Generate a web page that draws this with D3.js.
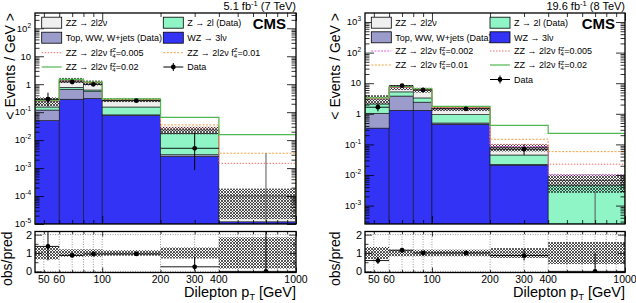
<!DOCTYPE html>
<html>
<head>
<meta charset="utf-8">
<script src="https://cdn.jsdelivr.net/npm/d3@7"></script>
<style>
  body { margin: 0; background: #fff; }
  text { font-family: "Liberation Sans", Arial, sans-serif; fill: #000; }
</style>
</head>
<body>
<svg id="chart" width="636" height="303"></svg>
<script>
////////////////////////////////////////////////////////
//////////////////// Data //////////////////////////////
////////////////////////////////////////////////////////

// dilepton pT bins (GeV)
const binEdges = [45, 60, 80, 100, 200, 400, 1000];
const binCenters = [52.5, 70, 90, 150, 300, 700];
const xTickLabels = [50, 60, 100, 200, 300, 400, 1000];
const xTicksMajor = [100, 1000];
const xTicksMinor = [50, 60, 70, 80, 90, 200, 300, 400, 500, 600, 700, 800, 900];
const ratioTickLabels = [0, 1, 2];

// 7 TeV, events / GeV
const wz7 = [0.05, 0.29, 0.31, 0.075, 0.0026, 0.000012];
const top7 = [0.069, 0.37, 0.23, 0.005, 0.0004, 0];
const z7 = [0.034, 0.115, 0.08, 0.073, 0.0145, 0];
const zz7 = [0.097, 0.625, 0.51, 0.117, 0.0055, 0.000088];
const unc7 = [0.35, 0.2, 0.2, 0.15, 0.3, 0.85];
const data7 = [0.29, 1.2, 0.99, 0.257, 0.0051, 0];
const data7Lo = [0.16, 1.05, 0.85, 0.235, 0.00085, 0];
const data7Hi = [0.5, 1.36, 1.14, 0.28, 0.018, 0.0034];
const f4_005_7 = [0.255, 1.42, 1.15, 0.28, 0.027, 0.00148];
const f4_01_7 = [0.26, 1.45, 1.17, 0.285, 0.035, 0.0034];
const f4_02_7 = [0.27, 1.5, 1.2, 0.3, 0.065, 0.0156];
const ratio7 = [1.36, 0.87, 0.95, 0.95, 0.25, 0];
const ratio7Lo = [0.6, 0.75, 0.82, 0.86, 0.04, 0];
const ratio7Hi = [3.5, 0.99, 1.08, 1.04, 0.8, 30];

// 8 TeV, events / GeV
const wz8 = [0.34, 1.3, 1.3, 0.45, 0.021, 0.0002];
const top8 = [0.7, 2.5, 1.1, 0.05, 0.001, 0];
const z8 = [1.06, 1.4, 0.9, 0.45, 0.023, 0.0045];
const zz8 = [0.95, 2.1, 2.7, 0.55, 0.035, 0.0018];
const unc8 = [0.33, 0.18, 0.18, 0.18, 0.27, 0.6];
const data8 = [1.64, 8.3, 6.0, 1.45, 0.07, 0];
const data8Lo = [1.2, 7.4, 5.2, 1.35, 0.045, 0];
const data8Hi = [2.2, 9.3, 6.9, 1.56, 0.1, 0.0029];
const f4_002_8 = [3.1, 7.4, 6.1, 1.55, 0.085, 0.01];
const f4_005_8 = [3.15, 7.5, 6.2, 1.6, 0.1, 0.0225];
const f4_01_8 = [3.2, 7.6, 6.3, 1.65, 0.147, 0.058];
const f4_02_8 = [3.3, 7.8, 6.5, 1.75, 0.42, 0.23];
const ratio8 = [0.59, 1.15, 1.0, 1.0, 0.86, 0];
const ratio8Lo = [0.4, 1.05, 0.9, 0.93, 0.6, 0];
const ratio8Hi = [0.8, 1.25, 1.1, 1.07, 1.2, 1.0];

////////////////////////////////////////////////////////
//////////////////// Setup /////////////////////////////
////////////////////////////////////////////////////////

const mainTop = 13, mainBottom = 224;
const ratioTop = 231.5, ratioBottom = 272.5;
const ratioDomain = [-0.06, 2.17];

const colZZ = "#efefef", colTop = "#9c9ccc", colZ = "#8ff5c6", colWZ = "#3333f5";
const f4Style = {
  "0.002": { color: "#e060e0", dash: "2,1.2", width: 1 },
  "0.005": { color: "#f07070", dash: "1.5,1.5", width: 1 },
  "0.01": { color: "#f5a040", dash: "2,1.5", width: 1 },
  "0.02": { color: "#50b850", dash: null, width: 1.2 }
};

const svg = d3.select("#chart");
const defs = svg.append("defs");
defs.append("pattern")
    .attr("id", "hatch")
    .attr("patternUnits", "userSpaceOnUse")
    .attr("width", 3).attr("height", 3)
  .append("path")
    .attr("d", "M0,0L3,3M3,0L0,3")
    .attr("stroke", "#222")
    .attr("stroke-width", 0.75);

////////////////////////////////////////////////////////
/////////////////////// Functions //////////////////////
////////////////////////////////////////////////////////

let f4Label = function(sel, val) {
  sel.append("tspan").text("ZZ → 2l2ν f");
  sel.append("tspan").attr("font-size", 6).attr("dy", 2).text("4");
  sel.append("tspan").attr("font-size", 6).attr("dx", -3.4).attr("dy", -5.5).text("Z");
  sel.append("tspan").attr("dy", 3.5).text("=" + val);
};

let drawPanel = function(p) {
  const g = svg.append("g");
  const clipId = "clip" + p.id, clipRId = "clipr" + p.id;

  defs.append("clipPath").attr("id", clipId)
    .append("rect").attr("x", p.left).attr("y", mainTop)
    .attr("width", p.right - p.left).attr("height", mainBottom - mainTop);
  defs.append("clipPath").attr("id", clipRId)
    .append("rect").attr("x", p.left).attr("y", ratioTop)
    .attr("width", p.right - p.left).attr("height", ratioBottom - ratioTop);

  const x = d3.scaleLog().domain([45, 1000]).range([p.left, p.right]);
  const y = d3.scaleLog().domain(p.yDomain).range([mainBottom, mainTop]).clamp(true);
  const yr = d3.scaleLinear().domain(ratioDomain).range([ratioBottom, ratioTop]);
  const yv = v => y(Math.max(v, p.yDomain[0]));

  // stacked backgrounds
  const rows = binCenters.map((c, i) => ({
    i: i, wz: p.wz[i], top: p.top[i], z: p.z[i], zz: p.zz[i]
  }));
  const series = d3.stack().keys(["wz", "top", "z", "zz"])(rows);
  const colors = { wz: colWZ, top: colTop, z: colZ, zz: colZZ };

  const main = g.append("g").attr("clip-path", `url(#${clipId})`);

  series.forEach(s => {
    main.append("g")
      .selectAll("rect")
      .data(s.filter(d => d[1] - d[0] > 0))
      .join("rect")
        .attr("x", d => x(binEdges[d.data.i]))
        .attr("width", d => x(binEdges[d.data.i + 1]) - x(binEdges[d.data.i]))
        .attr("y", d => yv(d[1]))
        .attr("height", d => yv(d[0]) - yv(d[1]))
        .attr("fill", colors[s.key])
        .attr("stroke", "#111")
        .attr("stroke-width", 0.6);
  });

  // uncertainty band
  const totals = rows.map(r => r.wz + r.top + r.z + r.zz);
  main.append("g")
    .selectAll("rect")
    .data(totals)
    .join("rect")
      .attr("x", (d, i) => x(binEdges[i]))
      .attr("width", (d, i) => x(binEdges[i + 1]) - x(binEdges[i]))
      .attr("y", (d, i) => yv(d * (1 + p.unc[i])))
      .attr("height", (d, i) => yv(d * (1 - p.unc[i])) - yv(d * (1 + p.unc[i])))
      .attr("fill", "url(#hatch)");

  // anomalous coupling histograms
  const line = d3.line().x(d => x(d[0])).y(d => yv(d[1]));
  p.f4.forEach(f => {
    const pts = [[binEdges[0], p.yDomain[0]]];
    f.values.forEach((v, i) => { pts.push([binEdges[i], v]); pts.push([binEdges[i + 1], v]); });
    pts.push([binEdges[binEdges.length - 1], p.yDomain[0]]);
    const st = f4Style[f.key];
    main.append("path")
      .attr("d", line(pts))
      .attr("fill", "none")
      .attr("stroke", st.color)
      .attr("stroke-width", st.width)
      .attr("stroke-dasharray", st.dash);
  });

  // data
  const dg = main.append("g");
  binCenters.forEach((c, i) => {
    dg.append("line")
      .attr("x1", x(c)).attr("x2", x(c))
      .attr("y1", yv(p.dataLo[i])).attr("y2", yv(p.dataHi[i]))
      .attr("stroke", p.data[i] > 0 ? "#000" : "#555").attr("stroke-width", 1);
    if (p.data[i] > 0) {
      dg.append("line")
        .attr("x1", x(binEdges[i])).attr("x2", x(binEdges[i + 1]))
        .attr("y1", y(p.data[i])).attr("y2", y(p.data[i]))
        .attr("stroke", "#000").attr("stroke-width", 0.9);
      dg.append("circle")
        .attr("cx", x(c)).attr("cy", y(p.data[i])).attr("r", 2.4).attr("fill", "#000");
    }
  });

  // ratio panel
  const rg = g.append("g").attr("clip-path", `url(#${clipRId})`);
  xTicksMinor.concat(xTicksMajor).forEach(v => {
    rg.append("line")
      .attr("x1", x(v)).attr("x2", x(v)).attr("y1", ratioTop).attr("y2", ratioBottom)
      .attr("stroke", "#555").attr("stroke-width", 0.6).attr("stroke-dasharray", "1,1.5");
  });
  ratioTickLabels.forEach(v => {
    rg.append("line")
      .attr("x1", p.left).attr("x2", p.right).attr("y1", yr(v)).attr("y2", yr(v))
      .attr("stroke", "#555").attr("stroke-width", 0.6).attr("stroke-dasharray", "1,1.5");
  });
  rg.append("g")
    .selectAll("rect")
    .data(p.unc)
    .join("rect")
      .attr("x", (d, i) => x(binEdges[i]))
      .attr("width", (d, i) => x(binEdges[i + 1]) - x(binEdges[i]))
      .attr("y", d => yr(1 + d))
      .attr("height", d => yr(1 - d) - yr(1 + d))
      .attr("fill", "url(#hatch)");
  binCenters.forEach((c, i) => {
    rg.append("line")
      .attr("x1", x(c)).attr("x2", x(c))
      .attr("y1", yr(p.ratioLo[i])).attr("y2", yr(p.ratioHi[i]))
      .attr("stroke", "#000").attr("stroke-width", 1);
    rg.append("line")
      .attr("x1", x(binEdges[i])).attr("x2", x(binEdges[i + 1]))
      .attr("y1", yr(p.ratio[i])).attr("y2", yr(p.ratio[i]))
      .attr("stroke", "#000").attr("stroke-width", 0.9);
    rg.append("circle")
      .attr("cx", x(c)).attr("cy", yr(p.ratio[i])).attr("r", 2.4).attr("fill", "#000");
  });

  // axes: ticks pointing inward on all sides
  const tickAxis = (gen, scale, vals, size, tx, ty) => {
    const a = g.append("g")
      .attr("transform", `translate(${tx},${ty})`)
      .call(gen(scale).tickValues(vals).tickSize(size).tickFormat(""));
    a.select(".domain").remove();
    a.selectAll("line").attr("stroke", "#000").attr("stroke-width", 0.8);
  };
  // main x
  tickAxis(d3.axisBottom, x, xTicksMajor, -8, 0, mainBottom);
  tickAxis(d3.axisBottom, x, xTicksMinor, -4, 0, mainBottom);
  tickAxis(d3.axisTop, x, xTicksMajor, -8, 0, mainTop);
  tickAxis(d3.axisTop, x, xTicksMinor, -4, 0, mainTop);
  // main y
  const dec0 = Math.floor(Math.log10(p.yDomain[0])), dec1 = Math.ceil(Math.log10(p.yDomain[1]));
  const yMaj = [], yMin = [];
  for (let k = dec0; k <= dec1; k++) {
    for (let m = 1; m < 10; m++) {
      const v = m * Math.pow(10, k);
      if (v < p.yDomain[0] * 0.999 || v > p.yDomain[1]) continue;
      (m === 1 ? yMaj : yMin).push(v);
    }
  }
  tickAxis(d3.axisLeft, y, yMaj, -9, p.left, 0);
  tickAxis(d3.axisLeft, y, yMin, -4.5, p.left, 0);
  tickAxis(d3.axisRight, y, yMaj, -9, p.right, 0);
  tickAxis(d3.axisRight, y, yMin, -4.5, p.right, 0);
  // ratio x/y
  tickAxis(d3.axisBottom, x, xTicksMajor, -5, 0, ratioBottom);
  tickAxis(d3.axisBottom, x, xTicksMinor, -2.5, 0, ratioBottom);
  tickAxis(d3.axisTop, x, xTicksMajor, -5, 0, ratioTop);
  tickAxis(d3.axisTop, x, xTicksMinor, -2.5, 0, ratioTop);
  tickAxis(d3.axisLeft, yr, ratioTickLabels, -7, p.left, 0);
  tickAxis(d3.axisLeft, yr, [0.5, 1.5], -3.5, p.left, 0);
  tickAxis(d3.axisRight, yr, ratioTickLabels, -7, p.right, 0);
  tickAxis(d3.axisRight, yr, [0.5, 1.5], -3.5, p.right, 0);

  // frames
  [[mainTop, mainBottom], [ratioTop, ratioBottom]].forEach(b => {
    g.append("rect")
      .attr("x", p.left).attr("y", b[0])
      .attr("width", p.right - p.left).attr("height", b[1] - b[0])
      .attr("fill", "none").attr("stroke", "#000").attr("stroke-width", 1.3);
  });

  // y tick labels main
  yMaj.forEach(v => {
    const k = Math.round(Math.log10(v));
    const t = g.append("text")
      .attr("x", p.left - 4).attr("y", y(v) + 3.3)
      .attr("text-anchor", "end").attr("font-size", 9.5);
    if (k === 0) t.text("1");
    else if (k === 1) t.text("10");
    else {
      t.append("tspan").text("10");
      t.append("tspan").attr("font-size", 6.5).attr("dy", -4).text(k);
    }
  });
  // ratio tick labels
  ratioTickLabels.forEach(v => {
    g.append("text")
      .attr("x", p.left - 3).attr("y", yr(v) + 4)
      .attr("text-anchor", "end").attr("font-size", 11)
      .text(v);
  });
  xTickLabels.forEach(v => {
    g.append("text")
      .attr("x", x(v)).attr("y", 283)
      .attr("text-anchor", "middle").attr("font-size", 10.5)
      .text(v);
  });

  // titles
  g.append("text")
    .attr("transform", `translate(${p.titleX},${mainTop}) rotate(-90)`)
    .attr("text-anchor", "end").attr("font-size", 14)
    .text("< Events / GeV >");
  g.append("text")
    .attr("transform", `translate(${p.ratioTitleX},${ratioTop}) rotate(-90)`)
    .attr("text-anchor", "end").attr("font-size", 14)
    .text("obs/pred");
  const xt = g.append("text")
    .attr("x", p.right).attr("y", 297)
    .attr("text-anchor", "end").attr("font-size", 14.5);
  xt.append("tspan").text("Dilepton p");
  xt.append("tspan").attr("font-size", 9).attr("dy", 3).text("T");
  xt.append("tspan").attr("dy", -3).text(" [GeV]");

  const lumi = g.append("text")
    .attr("x", p.right).attr("y", 9.5)
    .attr("text-anchor", "end").attr("font-size", 11);
  lumi.append("tspan").text(p.lumi);
  lumi.append("tspan").attr("font-size", 7.5).attr("dy", -3.5).text("-1");
  lumi.append("tspan").attr("dy", 3.5).text(" " + p.energy);

  g.append("text")
    .attr("x", p.right - 10).attr("y", 28.5)
    .attr("text-anchor", "end").attr("font-size", 15).attr("font-weight", "bold")
    .text("CMS");

  // legend
  p.legend.forEach(e => {
    const bx = p.legendCols[e.col], cy = p.legendRows[e.row];
    const lg = g.append("g");
    if (e.kind === "fill") {
      lg.append("rect")
        .attr("x", bx).attr("y", cy - 5.5).attr("width", 20).attr("height", 11)
        .attr("fill", e.color).attr("stroke", "#000").attr("stroke-width", 0.8);
    } else if (e.kind === "f4") {
      const st = f4Style[e.key];
      lg.append("line")
        .attr("x1", bx).attr("x2", bx + 20).attr("y1", cy).attr("y2", cy)
        .attr("stroke", st.color).attr("stroke-width", st.width)
        .attr("stroke-dasharray", st.dash);
    } else {
      lg.append("line")
        .attr("x1", bx).attr("x2", bx + 20).attr("y1", cy).attr("y2", cy)
        .attr("stroke", "#000").attr("stroke-width", 1);
      lg.append("line")
        .attr("x1", bx + 10).attr("x2", bx + 10).attr("y1", cy - 4).attr("y2", cy + 4)
        .attr("stroke", "#000").attr("stroke-width", 1);
      lg.append("circle").attr("cx", bx + 10).attr("cy", cy).attr("r", 2.4).attr("fill", "#000");
    }
    const t = lg.append("text")
      .attr("x", bx + 24).attr("y", cy + 3.2).attr("font-size", 9);
    if (e.kind === "f4") f4Label(t, e.key);
    else t.text(e.label);
  });
};

/////////////////////////////////////////////////////////
//////////////////// Creating the figure ////////////////
/////////////////////////////////////////////////////////

drawPanel({
  id: "7", left: 35, right: 296, yDomain: [1e-5, 352], titleX: 15, ratioTitleX: 12,
  wz: wz7, top: top7, z: z7, zz: zz7, unc: unc7,
  data: data7, dataLo: data7Lo, dataHi: data7Hi,
  ratio: ratio7, ratioLo: ratio7Lo, ratioHi: ratio7Hi,
  f4: [{ key: "0.005", values: f4_005_7 }, { key: "0.01", values: f4_01_7 }, { key: "0.02", values: f4_02_7 }],
  lumi: "5.1 fb", energy: "(7 TeV)",
  legendCols: [41.7, 163.3], legendRows: [22.7, 37.7, 52.7, 67],
  legend: [
    { kind: "fill", color: colZZ, label: "ZZ → 2l2ν", col: 0, row: 0 },
    { kind: "fill", color: colZ, label: "Z → 2l (Data)", col: 1, row: 0 },
    { kind: "fill", color: colTop, label: "Top, WW, W+jets (Data)", col: 0, row: 1 },
    { kind: "fill", color: colWZ, label: "WZ → 3lν", col: 1, row: 1 },
    { kind: "f4", key: "0.005", col: 0, row: 2 },
    { kind: "f4", key: "0.01", col: 1, row: 2 },
    { kind: "f4", key: "0.02", col: 0, row: 3 },
    { kind: "data", label: "Data", col: 1, row: 3 }
  ]
});

drawPanel({
  id: "8", left: 365, right: 625, yDomain: [2.5e-4, 1970], titleX: 340, ratioTitleX: 340,
  wz: wz8, top: top8, z: z8, zz: zz8, unc: unc8,
  data: data8, dataLo: data8Lo, dataHi: data8Hi,
  ratio: ratio8, ratioLo: ratio8Lo, ratioHi: ratio8Hi,
  f4: [{ key: "0.002", values: f4_002_8 }, { key: "0.005", values: f4_005_8 },
       { key: "0.01", values: f4_01_8 }, { key: "0.02", values: f4_02_8 }],
  lumi: "19.6 fb", energy: "(8 TeV)",
  legendCols: [371.3, 490], legendRows: [22.7, 37.3, 51, 65, 79.5],
  legend: [
    { kind: "fill", color: colZZ, label: "ZZ → 2l2ν", col: 0, row: 0 },
    { kind: "fill", color: colZ, label: "Z → 2l (Data)", col: 1, row: 0 },
    { kind: "fill", color: colTop, label: "Top, WW, W+jets (Data)", col: 0, row: 1 },
    { kind: "fill", color: colWZ, label: "WZ → 3lν", col: 1, row: 1 },
    { kind: "f4", key: "0.002", col: 0, row: 2 },
    { kind: "f4", key: "0.005", col: 1, row: 2 },
    { kind: "f4", key: "0.01", col: 0, row: 3 },
    { kind: "f4", key: "0.02", col: 1, row: 3 },
    { kind: "data", label: "Data", col: 1, row: 4 }
  ]
});
</script>
</body>
</html>
